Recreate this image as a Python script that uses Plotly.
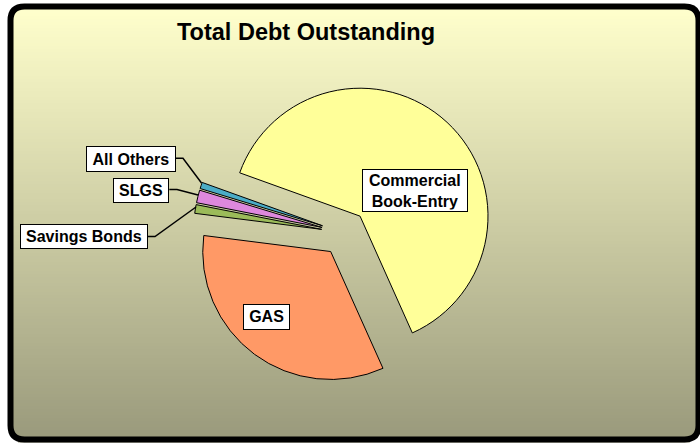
import plotly.graph_objects as go

# ---- data ----
categories = ["Commercial Book-Entry", "GAS", "Savings Bonds", "SLGS", "All Others"]
values = [62.8, 33.7, 1.1, 1.6, 0.8]
slice_colors = ["#FFFF99", "#FF9966", "#9BBB59", "#DD88DD", "#4BACC6"]
title_text = "Total Debt Outstanding"
label_texts = ["Commercial<br>Book-Entry", "GAS", "Savings Bonds", "SLGS", "All Others"]

W, H = 700, 446
FONT = "Liberation Sans, Arial, sans-serif"


def px(x):
    return x / W


def py(y):
    return 1 - y / H


def lerp_color(c1, c2, t):
    a = [int(c1[i:i + 2], 16) for i in (1, 3, 5)]
    b = [int(c2[i:i + 2], 16) for i in (1, 3, 5)]
    return "rgb(%d,%d,%d)" % tuple(round(a[k] + (b[k] - a[k]) * t) for k in range(3))


fig = go.Figure()
fig.add_trace(go.Pie(
    labels=categories,
    values=values,
    sort=False,
    direction="clockwise",
    rotation=-70.2,
    pull=[0.18] * len(values),
    marker=dict(colors=slice_colors, line=dict(color="black", width=1)),
    textinfo="none",
    hoverinfo="label+percent",
    showlegend=False,
    domain=dict(x=[0.192, 0.792], y=[0.139, 0.816]),
))

shapes = []
# gradient background inside rounded frame
top_c, bot_c = "#FFFFCC", "#9A9A7C"
ox0, ox1, oy0, oy1, rr = 8.0, 700.0, 4.0, 442.0, 17.0
step = 3.0
y = oy0
while y < oy1:
    y2 = min(y + step, oy1)
    ym = (y + y2) / 2
    inset = 0.0
    if ym < oy0 + rr:
        d = oy0 + rr - ym
        inset = rr - (max(rr * rr - d * d, 0)) ** 0.5
    elif ym > oy1 - rr:
        d = ym - (oy1 - rr)
        inset = rr - (max(rr * rr - d * d, 0)) ** 0.5
    t = min(max((ym - 9) / (437 - 9), 0), 1)
    col = lerp_color(top_c, bot_c, t)
    shapes.append(dict(type="rect", xref="paper", yref="paper",
                       x0=px(ox0 + inset), x1=px(ox1 - inset),
                       y0=py(y2 + 0.6), y1=py(y),
                       fillcolor=col, line=dict(width=0), layer="below"))
    y = y2

# rounded frame border
x0, x1, y0, y1, r = 10.5, 698.5, 6.5, 439.5, 14.0
path = (
    f"M {px(x0 + r)},{py(y0)} L {px(x1 - r)},{py(y0)} "
    f"Q {px(x1)},{py(y0)} {px(x1)},{py(y0 + r)} "
    f"L {px(x1)},{py(y1 - r)} Q {px(x1)},{py(y1)} {px(x1 - r)},{py(y1)} "
    f"L {px(x0 + r)},{py(y1)} Q {px(x0)},{py(y1)} {px(x0)},{py(y1 - r)} "
    f"L {px(x0)},{py(y0 + r)} Q {px(x0)},{py(y0)} {px(x0 + r)},{py(y0)} Z"
)
shapes.append(dict(type="path", xref="paper", yref="paper", path=path,
                   line=dict(color="black", width=6), layer="below"))

# leader lines (elbow)
leaders = [
    [(175.7, 158.3), (183.0, 158.3), (201.5, 183.0)],
    [(169.3, 189.5), (177.0, 189.5), (198.0, 195.0)],
    [(147.7, 236.5), (155.0, 236.5), (196.0, 207.0)],
]
for pts in leaders:
    p = "M " + " L ".join(f"{px(a)},{py(b)}" for a, b in pts)
    shapes.append(dict(type="path", xref="paper", yref="paper", path=p,
                       line=dict(color="black", width=1.5), layer="above"))

annotations = [dict(text=title_text, x=px(306), y=py(32), xref="paper", yref="paper",
                    xanchor="center", yanchor="middle", showarrow=False,
                    font=dict(family=FONT, size=23.5, color="black", weight="bold"))]

# label boxes: centre x, centre y, outer width, outer height
boxes = [
    (415.5, 190.0, 105.6, 43.4),
    (266.3, 317.0, 47.3, 25.7),
    (83.8, 236.7, 127.7, 25.3),
    (141.3, 190.0, 56.0, 24.6),
    (130.8, 158.7, 89.7, 26.0),
]
for txt, (cx, cy, bw, bh) in zip(label_texts, boxes):
    annotations.append(dict(text=txt, x=px(cx), y=py(cy), xref="paper", yref="paper",
                            xanchor="center", yanchor="middle", showarrow=False,
                            width=bw - 6, height=bh - 6, align="center", valign="middle",
                            bgcolor="white", bordercolor="black", borderwidth=1, borderpad=2,
                            font=dict(family=FONT, size=16, color="black", weight="bold")))

fig.update_layout(
    width=W, height=H,
    margin=dict(l=0, r=0, t=0, b=0),
    paper_bgcolor="white",
    shapes=shapes,
    annotations=annotations,
)

fig.write_html("out.html",
               config={"displayModeBar": False},
               post_script="document.body.style.margin='0';document.body.style.overflow='hidden';")
